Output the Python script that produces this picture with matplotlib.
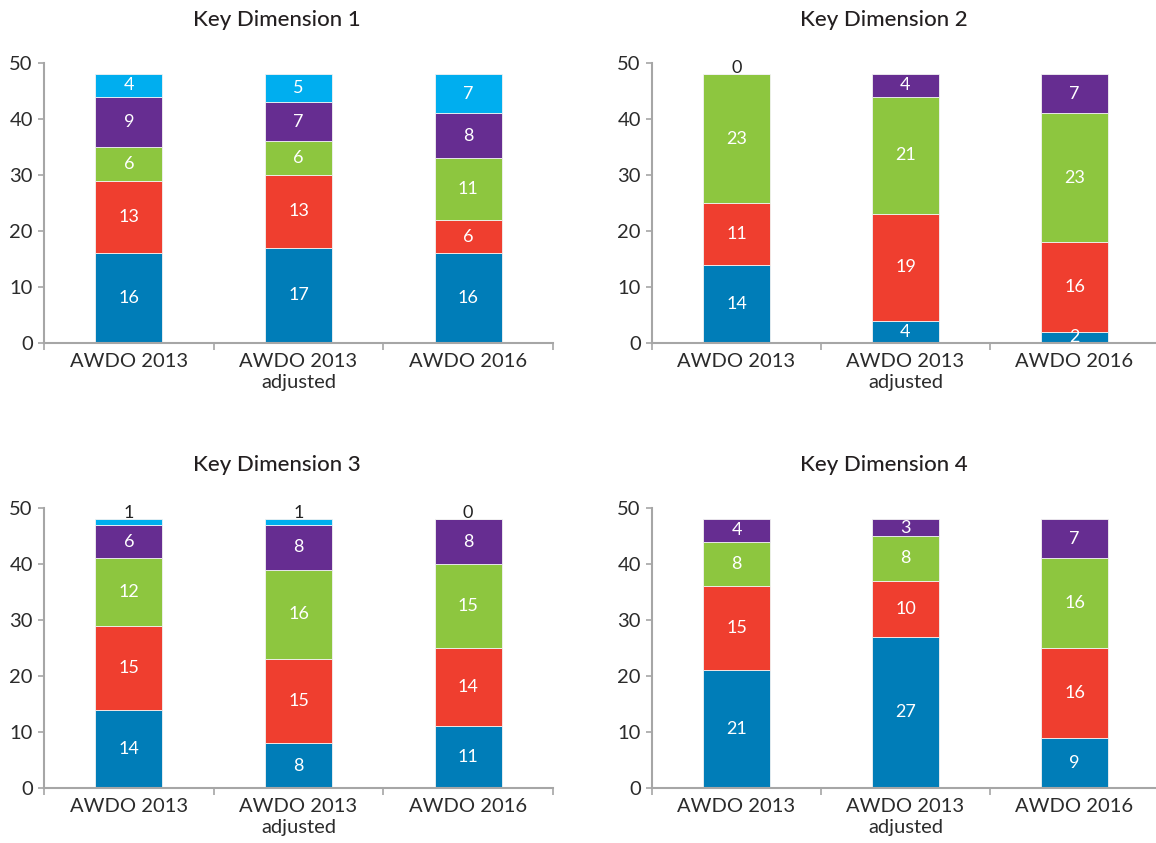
import matplotlib
matplotlib.use("Agg")
import matplotlib.pyplot as plt
from matplotlib.ticker import FixedLocator, NullFormatter

plt.rcParams['font.family'] = ['Lato', 'DejaVu Sans']

categories = ["AWDO 2013", "AWDO 2013\nadjusted", "AWDO 2016"]
titles = ["Key Dimension 1", "Key Dimension 2", "Key Dimension 3", "Key Dimension 4"]
colors = ["#007DB8", "#EF3E2F", "#8DC63F", "#662D91", "#00AEEF"]

# Stacked segments, bottom to top, one list per segment colour
kd1_seg1 = [16, 17, 16]
kd1_seg2 = [13, 13, 6]
kd1_seg3 = [6, 6, 11]
kd1_seg4 = [9, 7, 8]
kd1_seg5 = [4, 5, 7]

kd2_seg1 = [14, 4, 2]
kd2_seg2 = [11, 19, 16]
kd2_seg3 = [23, 21, 23]
kd2_seg4 = [0, 4, 7]

kd3_seg1 = [14, 8, 11]
kd3_seg2 = [15, 15, 14]
kd3_seg3 = [12, 16, 15]
kd3_seg4 = [6, 8, 8]
kd3_seg5 = [1, 1, 0]

kd4_seg1 = [21, 27, 9]
kd4_seg2 = [15, 10, 16]
kd4_seg3 = [8, 8, 16]
kd4_seg4 = [4, 3, 7]

dimensions = [
    [kd1_seg1, kd1_seg2, kd1_seg3, kd1_seg4, kd1_seg5],
    [kd2_seg1, kd2_seg2, kd2_seg3, kd2_seg4],
    [kd3_seg1, kd3_seg2, kd3_seg3, kd3_seg4, kd3_seg5],
    [kd4_seg1, kd4_seg2, kd4_seg3, kd4_seg4],
]

W, H = 1156, 843
fig = plt.figure(figsize=(W / 100, H / 100), dpi=100)

# axes boxes in pixels: left, top(y=50), width, height
boxes = [(44, 63, 509, 280), (652, 63, 507, 280),
         (44, 508, 509, 280), (652, 508, 507, 280)]

spine_col = "#A6A6A6"
text_col = "#2B2B2B"

for idx, (segs, title, (lx, ty, w, h)) in enumerate(zip(dimensions, titles, boxes)):
    ax = fig.add_axes([lx / W, (H - ty - h) / H, w / W, h / H])
    x = list(range(len(categories)))
    bottoms = [0] * len(categories)
    for s, vals in enumerate(segs):
        ax.bar(x, vals, width=0.395, bottom=bottoms, color=colors[s],
               edgecolor="#F2F2F2", linewidth=0.6, zorder=2)
        for i, v in enumerate(vals):
            if v <= 1:
                total = sum(seg[i] for seg in segs)
                ax.text(x[i], total + 1.1, str(v), ha="center", va="center",
                        color="#222222", fontsize=13, zorder=3)
            else:
                ax.text(x[i], bottoms[i] + v / 2, str(v), ha="center",
                        va="center", color="white", fontsize=13, zorder=3)
        bottoms = [b + v for b, v in zip(bottoms, vals)]

    ax.set_xlim(-0.5, len(categories) - 0.5)
    ax.set_ylim(0, 50)
    ax.set_yticks(range(0, 51, 10))
    ax.set_xticks(x)
    ax.set_xticklabels(categories, fontsize=14.5, color=text_col,
                       linespacing=1.3)
    ax.xaxis.set_minor_locator(FixedLocator([-0.5, 0.5, 1.5, 2.5]))
    ax.xaxis.set_minor_formatter(NullFormatter())
    ax.tick_params(axis="x", which="major", length=0, pad=7)
    ax.tick_params(axis="x", which="minor", length=5, width=1.2, color=spine_col)
    ax.tick_params(axis="y", length=4, width=1.2, color=spine_col,
                   labelsize=14.5, labelcolor=text_col, pad=4)
    for side in ("top", "right"):
        ax.spines[side].set_visible(False)
    for side in ("left", "bottom"):
        ax.spines[side].set_color(spine_col)
        ax.spines[side].set_linewidth(1.5)
    ax.set_facecolor("none")

    fig.text((lx + w / 2 - 22) / W, 1 - (ty - 43) / H, title, ha="center",
             va="center", fontsize=16, color="#231F20", fontweight="medium")

fig.savefig("out.png", dpi=100, facecolor="white")
